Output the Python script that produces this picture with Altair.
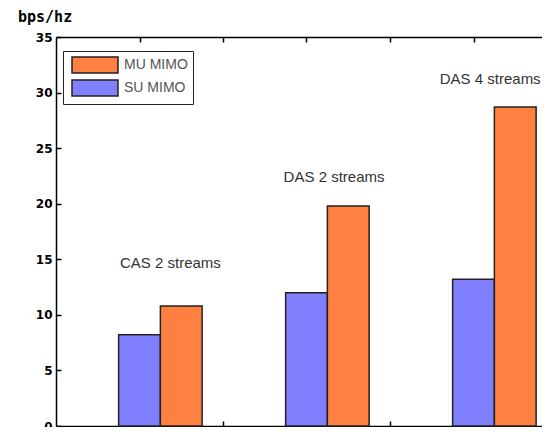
import altair as alt
import pandas as pd

# ---- data ----
groups = ["CAS 2 streams", "DAS 2 streams", "DAS 4 streams"]
su_mimo = [8.2, 12.0, 13.2]
mu_mimo = [10.8, 19.8, 28.7]
series = ["MU MIMO", "SU MIMO"]
colors = ["#FF8040", "#8080FF"]
label_x = [1.06, 2.04, 2.975]
label_y = [14.7, 22.4, 31.2]
y_ticks = [0, 5, 10, 15, 20, 25, 30, 35]
x_ticks = [0.875, 1.375, 1.875, 2.375, 2.875]

W, H = 486, 389
x_dom = [0.375, 0.375 + W / 167.0]

rows = []
for i, g in enumerate(groups):
    c = i + 1
    rows.append(dict(group=g, series="SU MIMO", x0=c - 0.25, x1=c, v=su_mimo[i]))
    rows.append(dict(group=g, series="MU MIMO", x0=c, x1=c + 0.25, v=mu_mimo[i]))
bars_df = pd.DataFrame(rows)
labels_df = pd.DataFrame(dict(text=groups, x=label_x, y=label_y))

xs = alt.Scale(domain=x_dom, nice=False, zero=False)
ys = alt.Scale(domain=[0, 35], nice=False)

rect_path = "M-2.875,-1L2.875,-1L2.875,1L-2.875,1Z"

bars = alt.Chart(bars_df).mark_bar(stroke="#222222", strokeWidth=1.5).encode(
    x=alt.X("x0:Q", scale=xs, axis=alt.Axis(orient="bottom", title=None, labels=False,
                                             ticks=False, tickSize=0, grid=False,
                                             domainColor="#000000", domainWidth=1.5)),
    x2="x1:Q",
    y=alt.Y("v:Q", scale=ys, axis=alt.Axis(orient="left", title=None, values=y_ticks,
                                            ticks=False, tickSize=0, grid=False,
                                            labelFont="DejaVu Sans", labelFontWeight="bold",
                                            labelFontSize=12, labelColor="#000000",
                                            labelPadding=4, domainColor="#000000",
                                            domainWidth=1.5)),
    y2=alt.datum(0),
    color=alt.Color("series:N", scale=alt.Scale(domain=series, range=colors),
                    legend=alt.Legend(title=None, orient="none", legendX=7, legendY=14,
                                      strokeColor="#222222", fillColor="#ffffff",
                                      padding=5, symbolType=rect_path, symbolSize=256,
                                      symbolStrokeColor="#222222", symbolStrokeWidth=1.5,
                                      symbolOffset=18, labelOffset=20,
                                      labelFont="Liberation Sans", labelFontSize=14,
                                      labelColor="#555555", rowPadding=1)),
)

texts = alt.Chart(labels_df).mark_text(font="Liberation Sans", fontSize=15,
                                       color="#333333").encode(
    x=alt.X("x:Q", scale=xs, axis=alt.Axis(orient="bottom", offset=-5, title=None,
                                            domain=False, labels=False, tickSize=5,
                                            values=x_ticks, tickColor="#000000",
                                            tickWidth=1.5, grid=False)),
    y=alt.Y("y:Q", scale=ys, axis=alt.Axis(orient="left", offset=-5, title=None,
                                            domain=False, labels=False, tickSize=5,
                                            values=y_ticks, tickColor="#000000",
                                            tickWidth=1.5, grid=False)),
    text="text:N",
)

top_line = alt.Chart(labels_df).mark_point(opacity=0).encode(
    x=alt.X("x:Q", scale=xs, axis=alt.Axis(orient="top", title=None, labels=False,
                                            ticks=False, tickSize=0, grid=False,
                                            domainColor="#000000", domainWidth=1.5)),
    y=alt.Y("y:Q", scale=ys, axis=None),
)

top_ticks = alt.Chart(labels_df).mark_point(opacity=0).encode(
    x=alt.X("x:Q", scale=xs, axis=alt.Axis(orient="top", offset=-5, title=None,
                                            domain=False, labels=False, tickSize=5,
                                            values=x_ticks, tickColor="#000000",
                                            tickWidth=1.5, grid=False)),
    y=alt.Y("y:Q", scale=ys, axis=None),
)

chart = alt.layer(bars, texts, top_line, top_ticks).resolve_scale(
    x="shared", y="shared"
).resolve_axis(
    x="independent", y="independent"
).properties(
    width=W, height=H,
    autosize=alt.AutoSizeParams(type="none"),
    padding={"left": 48, "top": 29, "right": 0, "bottom": 1},
    title=alt.TitleParams("bps/hz", anchor="start", frame="group", font="DejaVu Sans Mono",
                          fontSize=15, fontWeight="bold", color="#000000", dx=-38, offset=6),
    background="#ffffff",
).configure_view(stroke=None)

chart.save("out.html", embed_options={"renderer": "svg", "actions": False})
